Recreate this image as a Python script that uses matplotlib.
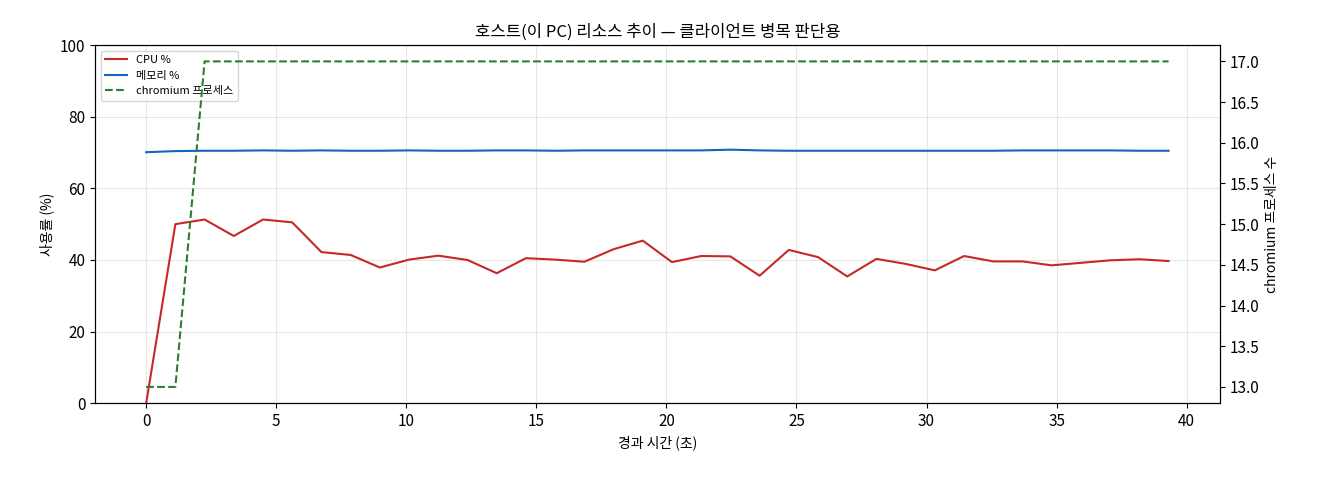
import matplotlib
matplotlib.use("Agg")
import matplotlib.pyplot as plt
import numpy as np

plt.rcParams["font.family"] = ["Noto Sans CJK KR", "DejaVu Sans"]
plt.rcParams["font.size"] = 11

t = np.arange(36) * 1.123
cpu = [0, 50, 51.3, 46.7, 51.3, 50.5, 42.2, 41.4, 37.9, 40.1, 41.2, 40, 36.3, 40.5,
       40.1, 39.5, 43, 45.4, 39.4, 41.1, 41, 35.6, 42.8, 40.8, 35.4, 40.3, 38.9, 37.1,
       41.1, 39.6, 39.6, 38.5, 39.2, 39.9, 40.2, 39.7]
mem = [70.1, 70.4, 70.5, 70.5, 70.6, 70.5, 70.6, 70.5, 70.5, 70.6, 70.5, 70.5, 70.6, 70.6,
       70.5, 70.6, 70.6, 70.6, 70.6, 70.6, 70.8, 70.6, 70.5, 70.5, 70.5, 70.5, 70.5, 70.5,
       70.5, 70.5, 70.6, 70.6, 70.6, 70.6, 70.5, 70.5]
chrom = [13, 13] + [17] * 34

fig, ax = plt.subplots(figsize=(13.2, 4.8), dpi=100)
fig.subplots_adjust(left=0.072, right=0.924, top=0.906, bottom=0.16)
l1, = ax.plot(t, cpu, color="#c62828", lw=1.5, label="CPU %")
l2, = ax.plot(t, mem, color="#1565c0", lw=1.5, label="메모리 %")
ax.set_ylim(0, 100)
ax.set_xlabel("경과 시간 (초)", fontsize=10)
ax.set_ylabel("사용률 (%)", fontsize=10)
ax.grid(alpha=0.3)
ax2 = ax.twinx()
l3, = ax2.plot(t, chrom, color="#2e7d32", lw=1.5, ls="--", label="chromium 프로세스")
ax2.set_ylabel("chromium 프로세스 수", fontsize=10)
ax.set_title("호스트(이 PC) 리소스 추이 — 클라이언트 병목 판단용", fontsize=12)
ax.legend(handles=[l1, l2, l3], loc="upper left", fontsize=8)
fig.savefig("out.png")
